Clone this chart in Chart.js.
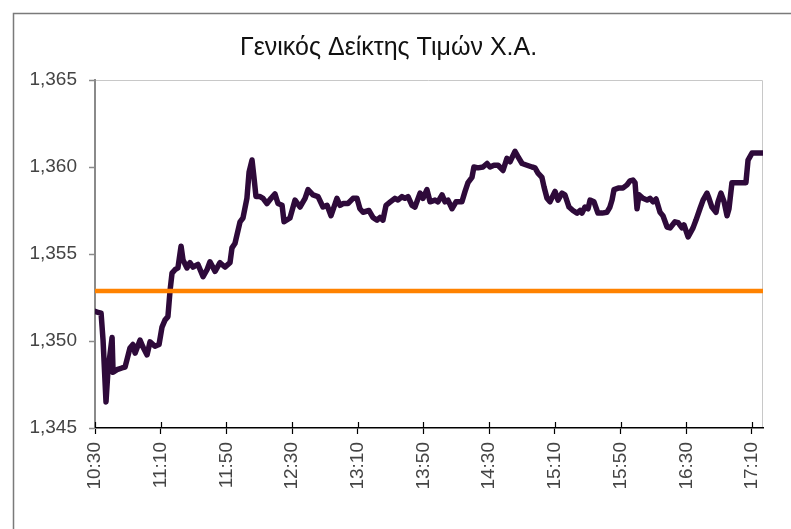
<!DOCTYPE html>
<html>
<head>
<meta charset="utf-8">
<script src="https://cdn.jsdelivr.net/npm/chart.js@4/dist/chart.umd.min.js"></script>
<style>
  html, body { margin: 0; padding: 0; background: #fff; }
  #wrap { width: 791px; height: 529px; position: relative; }
</style>
</head>
<body>
<div id="wrap"><canvas id="c" width="791" height="529"></canvas></div>
<script>
// Γενικός Δείκτης Τιμών Χ.Α. - intraday (minutes after 10:30)
const title = 'Γενικός Δείκτης Τιμών Χ.Α.';
const timeTicks = ['10:30', '11:10', '11:50', '12:30', '13:10', '13:50', '14:30', '15:10', '15:50', '16:30', '17:10'];
const yTicks = [1345, 1350, 1355, 1360, 1365];
const prevClose = 1352.87;
const lastMinute = 406.7;

const minutes = [
  0, 1.8, 3.7, 4.9, 6.7, 7.9, 10.4, 11.0, 13.4, 16.4, 18.3, 21.3, 23.1, 24.4, 27.4, 29.2, 31.7, 33.5, 36.5, 39.0,
  40.8, 42.6, 44.4, 45.7, 46.9, 48.7, 50.5, 52.4, 53.6, 56.0, 57.8, 59.7, 62.7, 65.8, 68.2, 70.0, 73.1, 76.1, 79.1, 82.2,
  83.4, 85.2, 88.3, 90.1, 92.5, 93.8, 95.6, 96.8, 98.0, 100.5, 102.3, 104.7, 107.2, 109.6, 111.4, 113.9, 115.1, 118.7, 121.8, 124.8,
  127.9, 129.7, 132.7, 135.8, 138.8, 141.3, 143.7, 147.3, 149.2, 151.0, 154.0, 157.1, 159.5, 161.3, 163.2, 166.8, 169.2, 171.7, 173.5, 175.3,
  177.2, 179.6, 182.6, 184.5, 186.9, 188.7, 190.6, 193.0, 194.8, 197.9, 199.7, 202.1, 204.0, 207.0, 208.8, 211.3, 213.1, 214.9, 217.4, 219.8,
  223.4, 225.3, 227.1, 229.5, 230.7, 233.2, 236.2, 238.7, 240.5, 242.9, 245.4, 248.4, 250.8, 252.7, 255.7, 257.5, 260.0, 263.0, 266.1, 267.9,
  269.7, 272.1, 273.4, 275.2, 277.0, 280.1, 281.9, 284.3, 286.1, 288.6, 291.0, 293.5, 295.3, 296.5, 298.3, 300.2, 301.4, 303.8, 306.2, 308.7,
  311.7, 313.5, 314.8, 316.0, 319.0, 321.5, 323.9, 325.7, 327.5, 328.8, 330.0, 331.2, 333.6, 336.1, 337.9, 339.7, 341.6, 344.0, 345.8, 348.3,
  350.1, 353.1, 355.0, 357.4, 358.6, 361.1, 364.1, 365.9, 368.3, 370.2, 372.6, 373.8, 375.6, 378.1, 379.3, 381.1, 383.0, 384.8, 386.0, 387.8,
  390.9, 393.9, 396.3, 397.6, 400.0, 403.0, 406.7
];
const indexValues = [
  1351.7, 1351.65, 1351.6, 1350.05, 1346.5, 1348.3, 1350.2, 1348.2, 1348.35, 1348.45, 1348.5, 1349.6, 1349.8, 1349.3, 1350.05, 1349.65, 1349.2, 1349.95, 1349.7, 1349.8,
  1350.8, 1351.2, 1351.4, 1352.9, 1353.9, 1354.1, 1354.2, 1355.45, 1354.65, 1354.2, 1354.5, 1354.25, 1354.4, 1353.7, 1354.1, 1354.55, 1354.0, 1354.5, 1354.25, 1354.5,
  1355.35, 1355.6, 1356.85, 1357.07, 1358.2, 1359.7, 1360.4, 1359.4, 1358.3, 1358.3, 1358.2, 1357.9, 1358.2, 1358.45, 1357.9, 1357.8, 1356.85, 1357.07, 1358.1, 1357.7,
  1358.2, 1358.7, 1358.4, 1358.3, 1357.7, 1357.8, 1357.2, 1358.2, 1357.8, 1357.9, 1357.9, 1358.2, 1358.2, 1357.6, 1357.4, 1357.5, 1357.1, 1356.95, 1357.1, 1356.95,
  1357.8, 1357.98, 1358.2, 1358.1, 1358.3, 1358.2, 1358.3, 1357.8, 1357.7, 1358.5, 1358.2, 1358.7, 1358.0, 1358.1, 1358.0, 1358.4, 1358.0, 1358.1, 1357.6, 1358.0,
  1358.0, 1358.6, 1359.1, 1359.4, 1360.0, 1359.95, 1360.0, 1360.2, 1360.0, 1360.1, 1360.1, 1359.8, 1360.5, 1360.3, 1360.9, 1360.6, 1360.2, 1360.1, 1360.0, 1359.95,
  1359.65, 1359.4, 1358.85, 1358.2, 1358.0, 1358.6, 1358.1, 1358.5, 1358.4, 1357.7, 1357.5, 1357.35, 1357.5, 1357.35, 1357.7, 1357.6, 1358.1, 1358.0, 1357.35, 1357.35,
  1357.4, 1357.7, 1358.1, 1358.7, 1358.8, 1358.8, 1358.97, 1359.2, 1359.25, 1359.1, 1357.6, 1358.4, 1358.2, 1358.1, 1358.2, 1358.0, 1358.16, 1357.4, 1357.2, 1356.55,
  1356.5, 1356.85, 1356.8, 1356.5, 1356.67, 1355.98, 1356.5, 1356.95, 1357.6, 1358.1, 1358.5, 1358.2, 1357.7, 1357.4, 1358.0, 1358.5, 1358.0, 1357.2, 1357.6, 1359.1,
  1359.1, 1359.1, 1359.1, 1360.4, 1360.8, 1360.8, 1360.8
];

const fontFam = '"Liberation Sans", Arial, sans-serif';

// outer frame, plot top/right border, and the short x ticks that poke above the axis
const framePlugin = {
  id: 'frame',
  beforeDraw(chart) {
    const ctx = chart.ctx, a = chart.chartArea;
    ctx.save();
    ctx.strokeStyle = '#7a7a7a';
    ctx.lineWidth = 1.5;
    ctx.strokeRect(13.5, 13.5, chart.width + 20, chart.height + 20);
    ctx.strokeStyle = '#c8c8c8';
    ctx.lineWidth = 1;
    ctx.beginPath();
    ctx.moveTo(a.left, a.top + 0.5);
    ctx.lineTo(a.right - 0.5, a.top + 0.5);
    ctx.lineTo(a.right - 0.5, a.bottom);
    ctx.stroke();
    ctx.restore();
  },
  afterDatasetsDraw(chart) {
    const ctx = chart.ctx, x = chart.scales.x, a = chart.chartArea;
    ctx.save();
    ctx.strokeStyle = '#000';
    ctx.lineWidth = 1.2;
    ctx.beginPath();
    x.ticks.forEach(t => {
      const px = Math.round(x.getPixelForValue(t.value)) + 0.5;
      ctx.moveTo(px, a.bottom - 6);
      ctx.lineTo(px, a.bottom);
    });
    ctx.stroke();
    ctx.restore();
  }
};

new Chart(document.getElementById('c'), {
  type: 'line',
  data: {
    datasets: [
      {
        label: 'prev',
        data: [{ x: 0, y: prevClose }, { x: lastMinute, y: prevClose }],
        borderColor: '#ff8200',
        borderWidth: 4.5,
        pointRadius: 0
      },
      {
        label: 'index',
        data: minutes.map((m, i) => ({ x: m, y: indexValues[i] })),
        borderColor: '#2e0a3a',
        borderWidth: 5.5,
        borderJoinStyle: 'round',
        borderCapStyle: 'round',
        pointRadius: 0,
        tension: 0
      }
    ]
  },
  plugins: [framePlugin],
  options: {
    responsive: false,
    animation: false,
    devicePixelRatio: 1,
    layout: { padding: { top: 14, left: 14, right: 28, bottom: 0 } },
    plugins: {
      legend: { display: false },
      tooltip: { enabled: false },
      title: {
        display: true,
        text: title,
        color: '#111',
        font: { family: fontFam, size: 25, weight: 'normal', lineHeight: 1.2 },
        padding: { top: 19, bottom: 17 }
      }
    },
    scales: {
      x: {
        type: 'linear',
        min: 0,
        max: lastMinute,
        afterFit: s => { s.height = 101; },
        border: { color: '#000', width: 1.5 },
        grid: { drawOnChartArea: false, tickLength: 6, tickColor: '#000', tickWidth: 1.2 },
        ticks: {
          stepSize: 40,
          includeBounds: false,
          autoSkip: false,
          minRotation: 90,
          maxRotation: 90,
          padding: 8,
          color: '#444',
          font: { family: fontFam, size: 19 },
          callback: (v, i) => timeTicks[i]
        }
      },
      y: {
        min: yTicks[0],
        max: yTicks[yTicks.length - 1],
        afterFit: s => { s.width = 81; },
        border: { color: '#8a8a8a', width: 2 },
        grid: { drawOnChartArea: false, tickLength: 6, tickColor: '#8a8a8a', tickWidth: 1.5 },
        ticks: {
          stepSize: 5,
          padding: 12,
          color: '#444',
          font: { family: fontFam, size: 19 },
          callback: v => v.toLocaleString('en-US')
        }
      }
    }
  }
});
</script>
</body>
</html>
